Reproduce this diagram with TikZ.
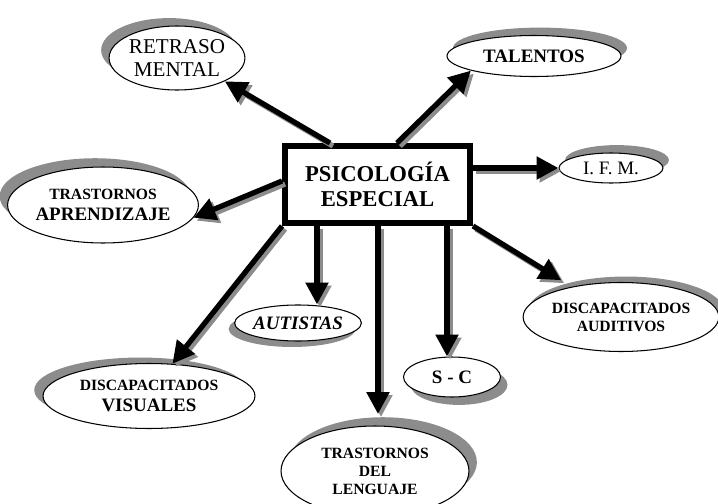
\documentclass[tikz,border=0pt]{standalone}
\usepackage{fontspec}
\setmainfont{Liberation Serif}
\usetikzlibrary{shapes.geometric,shadows,arrows.meta}
\definecolor{shadowgray}{RGB}{140,140,140}
\newcommand\ftitle{\fontsize{12.9}{14.2}\selectfont\bfseries}
\newcommand\fbig{\fontsize{10.8}{12}\selectfont}
\newcommand\fsmall{\fontsize{8.9}{10.2}\selectfont}

\begin{document}
\begin{tikzpicture}[x=0.02cm,y=-0.02cm,
  blob/.style={ellipse,draw,fill=white,line width=0.6pt,inner sep=0pt,align=center},
  shd/.style 2 args={drop shadow={shadow xshift=#1,shadow yshift=#2,fill=shadowgray,opacity=1}},
  arr/.style={line width=3pt,-{Triangle[length=12.5pt,width=12.5pt]}}]

\useasboundingbox (0,0) rectangle (718,504);

%centro
\node[draw,line width=3.4pt,minimum width=3.7cm,minimum height=1.54cm,align=center,font=\ftitle] (psico) at (377.5,184.5) {PSICOLOGÍA\\ESPECIAL};

%1
\node[blob,shd={-4.5pt}{4.5pt},minimum width=2.48cm,minimum height=1.28cm,font=\fontsize{12}{13}\selectfont] (retraso) at (177,58) {RETRASO\\MENTAL};

%2
\node[blob,shd={-4.5pt}{5pt},minimum width=3.6cm,minimum height=1.52cm,font=\fbig\bfseries] (aprendizaje) at (103,205) {{\fsmall TRASTORNOS}\\APRENDIZAJE};

%3
\node[blob,shd={3.4pt}{4.5pt},minimum width=3.48cm,minimum height=0.82cm,font=\fbig\bfseries] (talentos) at (534,56) {TALENTOS};

%4
\node[blob,shd={3.4pt}{4.5pt},minimum width=2.08cm,minimum height=0.6cm,font=\fontsize{10.8}{12}\selectfont] (ifm) at (611,168) {I. F. M.};

%5
\node[blob,shd={-5pt}{3.4pt},minimum width=4.24cm,minimum height=1.3cm,font=\fbig\bfseries] (visuales) at (149,396) {{\fsmall DISCAPACITADOS}\\VISUALES};

%6
\node[blob,shd={-3.4pt}{-3.4pt},minimum width=2.52cm,minimum height=0.72cm,font=\fbig\bfseries\itshape] (autistas) at (298,323) {AUTISTAS};

%7
\node[blob,shd={4.5pt}{5pt},minimum width=3.76cm,minimum height=1.8cm,font=\fsmall\bfseries] (lenguaje) at (375,471) {TRASTORNOS\\DEL\\LENGUAJE};

%8
\node[blob,shd={4pt}{-4.5pt},minimum width=1.94cm,minimum height=0.8cm,font=\fontsize{10.8}{12}\selectfont\bfseries] (sc) at (452,377) {S - C};

%9
\node[blob,shd={2.8pt}{3.4pt},minimum width=3.9cm,minimum height=1.38cm,font=\fsmall\bfseries] (auditivos) at (621,317) {DISCAPACITADOS\\AUDITIVOS};

%flechas (sombra gris, luego negro)
\foreach \col/\off in {shadowgray/1.7pt, black/0pt} {
\begin{scope}[transform canvas={shift={(\off,-\off)}},draw=\col]
\draw[arr] (330,0 |- psico.north) -- (retraso.-26);
\draw[arr] (397,0 |- psico.north) -- (talentos.193);
\draw[arr] (psico.east |- ifm.west) -- (ifm.west);
\draw[arr] (psico.west |- 0,181) -- (aprendizaje.-8);
\draw[arr] (psico.south west) -- (visuales.54);
\draw[arr] (317,0 |- psico.south) -- (317,0 |- autistas.north);
\draw[arr,shorten >=6.5pt] (378,0 |- psico.south) -- (378,0 |- lenguaje.north);
\draw[arr] (447,0 |- psico.south) -- (447,0 |- sc.north);
\draw[arr,shorten >=7pt] (psico.south east) -- (auditivos);
\end{scope}
}
\end{tikzpicture}
\end{document}
